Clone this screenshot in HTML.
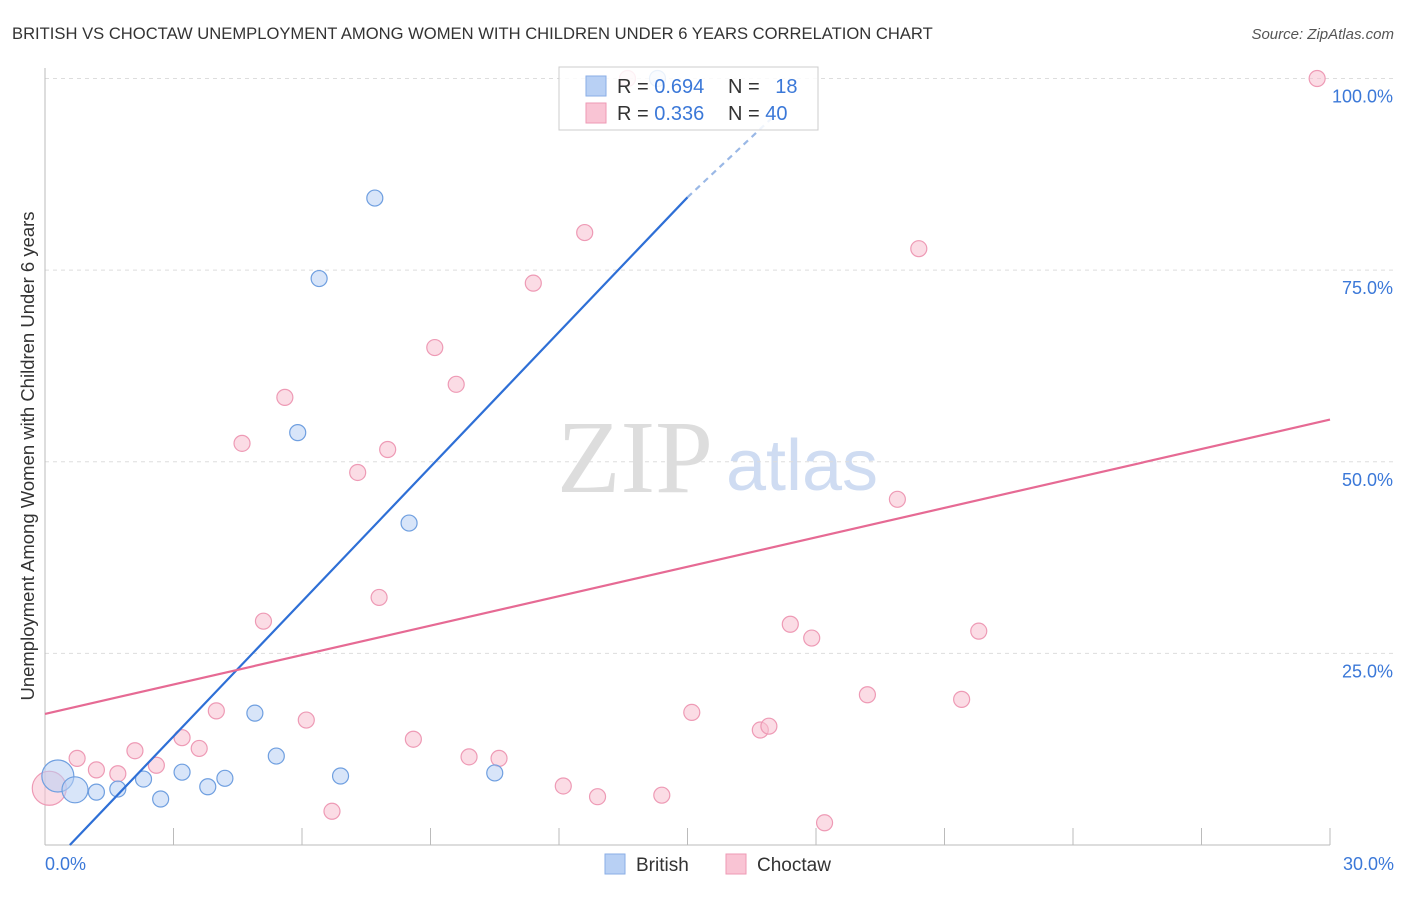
<!DOCTYPE html>
<html><head><meta charset="utf-8"><style>
body{margin:0;background:#fff;font-family:"Liberation Sans",sans-serif}
svg text{font-family:"Liberation Sans",sans-serif}
</style></head><body>
<svg id="c" width="1406" height="892">
<text x="12" y="39" font-size="16.6" fill="#333">BRITISH VS CHOCTAW UNEMPLOYMENT AMONG WOMEN WITH CHILDREN UNDER 6 YEARS CORRELATION CHART</text>
<text x="1394" y="39" font-size="15" fill="#555" text-anchor="end" font-style="italic">Source: ZipAtlas.com</text>
<text x="635" y="492" font-size="104" fill="#ddd" text-anchor="middle" style="font-family:'Liberation Serif',serif">ZIP</text>
<text x="802" y="490" font-size="72" fill="#cfdcf2" text-anchor="middle">atlas</text>
<text transform="translate(34,456) rotate(-90)" font-size="18.5" fill="#333" text-anchor="middle">Unemployment Among Women with Children Under 6 years</text>
<g id="grid"></g><g id="marks"></g>
<g>
<rect x="559" y="67" width="259" height="63" fill="#fff" fill-opacity="0.85" stroke="#ccc"/>
<rect x="586" y="76" width="20" height="20" fill="#b8d0f4" stroke="#8aaee6"/>
<rect x="586" y="103" width="20" height="20" fill="#f9c4d4" stroke="#ee9ab5"/>
<text x="617" y="93" font-size="20" fill="#333">R = <tspan fill="#3b78d8">0.694</tspan></text>
<text x="728" y="93" font-size="20" fill="#333">N = <tspan fill="#3b78d8" dx="10">18</tspan></text>
<text x="617" y="120" font-size="20" fill="#333">R = <tspan fill="#3b78d8">0.336</tspan></text>
<text x="728" y="120" font-size="20" fill="#333">N = <tspan fill="#3b78d8">40</tspan></text>
</g>
<g>
<rect x="605" y="854" width="20" height="20" fill="#b8d0f4" stroke="#8aaee6"/>
<text x="636" y="871" font-size="19" fill="#333">British</text>
<rect x="726" y="854" width="20" height="20" fill="#f9c4d4" stroke="#ee9ab5"/>
<text x="757" y="871" font-size="19" fill="#333">Choctaw</text>
</g>
</svg>
<script>
const yTicks=[25,50,75,100];
const yTickLabels=["25.0%","50.0%","75.0%","100.0%"];
const xTickLabels=["0.0%","30.0%"];
const britishX=[0.3,0.7,1.2,1.7,2.3,2.7,3.2,3.8,4.2,4.9,5.4,5.9,6.4,6.9,7.7,8.5,10.5,14.3];
const britishY=[9.0,7.2,6.9,7.3,8.6,6.0,9.5,7.6,8.7,17.2,11.6,53.8,73.9,9.0,84.4,42.0,9.4,100];
const choctawX=[0.1,0.75,1.2,1.7,2.1,2.6,3.2,3.6,4.0,4.6,5.1,5.6,6.1,6.7,7.3,7.8,8.0,8.6,9.1,9.6,9.9,10.6,11.4,12.1,12.6,12.9,13.6,14.4,15.1,16.7,16.9,17.4,17.9,18.2,19.2,19.9,20.4,21.4,21.8,29.7];
const choctawY=[7.4,11.3,9.8,9.3,12.3,10.4,14.0,12.6,17.5,52.4,29.2,58.4,16.3,4.4,48.6,32.3,51.6,13.8,64.9,60.1,11.5,11.3,73.3,7.7,79.9,6.3,100,6.5,17.3,15.0,15.5,28.8,27.0,2.9,19.6,45.1,77.8,19.0,27.9,100];
const blueLine=[[0.58,0],[15,84.5]], blueDash=[[15,84.5],[17,95]];
const pinkLine=[[0,17.1],[30,55.5]];
const X=v=>45+v*1285/30, Y=v=>845-v*7.665;
const NS="http://www.w3.org/2000/svg";
const g=document.getElementById('grid'), m=document.getElementById('marks');
function el(t,a,p){const e=document.createElementNS(NS,t);for(const k in a)e.setAttribute(k,a[k]);p.appendChild(e);return e;}
yTicks.forEach((t,i)=>{
 const l=el('line',{x1:45,x2:1394,y1:Y(t),y2:Y(t),stroke:'#ddd','stroke-dasharray':'4,4'},g);
 
 
 const tx=el('text',{x:1393,y:Y(t)+24,'font-size':18,fill:'#3b78d8','text-anchor':'end'},g);
 tx.textContent=yTickLabels[i];
 
 
});
let ax=el('line',{x1:45,x2:45,y1:68,y2:845,stroke:'#bbb'},g);


ax=el('line',{x1:45,x2:1330,y1:845,y2:845,stroke:'#bbb'},g);


for(let i=0;i<=10;i++){const t=el('line',{x1:X(i*3),x2:X(i*3),y1:828,y2:845,stroke:'#bbb'},g);
 
 }
[[0,'start',45],[1,'end',1394]].forEach(([i,a,x])=>{const t=el('text',{x:x,y:870,'font-size':18,fill:'#3b78d8','text-anchor':a},g);t.textContent=xTickLabels[i];
 
 });
function pts(xs,ys,fill,stroke,name){xs.forEach((x,i)=>{const r=(x<0.8&&ys[i]<10)?(name==='choctaw-point'&&i===0?17:(x<0.5?16:13)):8;
 const c=el('circle',{cx:X(x),cy:Y(ys[i]),r:r,fill:fill,stroke:stroke,'stroke-width':1.2,'fill-opacity':0.55},m);
 
 });}
pts(choctawX,choctawY,'#f8bfd0','#ee9ab5','choctaw-point');
pts(britishX,britishY,'#b8d0f4','#6f9fe0','british-point');
function ln(p,s,d,name){const l=el('line',{x1:X(p[0][0]),y1:Y(p[0][1]),x2:X(p[1][0]),y2:Y(p[1][1]),stroke:s,'stroke-width':2.2},m);if(d)l.setAttribute('stroke-dasharray',d);
 
 }
ln(blueLine,'#2e6fd6',null,'british-trendline');
ln(blueDash,'#9ab8e6','6,5','british-trendline-extension');
ln(pinkLine,'#e66a94',null,'choctaw-trendline');
</script>
</body></html>
